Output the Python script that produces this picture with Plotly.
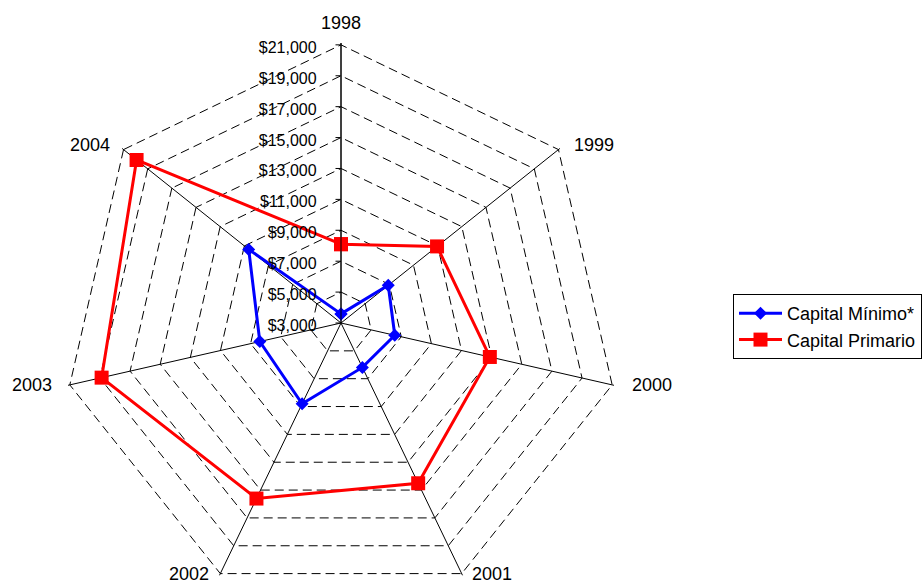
import plotly.graph_objects as go

# Years around the radar, clockwise from the top
years = ["1998", "1999", "2000", "2001", "2002", "2003", "2004"]

# Capital amounts in dollars
capital_minimo = [3590, 6910, 6570, 6190, 8800, 8390, 10640]
capital_primario = [8100, 10950, 12880, 14510, 15610, 18890, 19920]

# Radial scale
r_min, r_max, r_step = 3000, 21000, 2000
r_pad = 120  # keeps the top ring inside the axis so it is drawn as a grid line

W, H = 922, 650
cx, cy, rad = 341, 323, 280  # centre and outer radius in pixels
top = cy - rad

font_family = "Arial, Liberation Sans, sans-serif"

# Year label placement around the outer polygon (pixel x, pixel y, anchor)
year_label_pos = [
    (341, 23, "center"),
    (572, 145, "left"),
    (630, 385, "left"),
    (470, 574, "left"),
    (211, 574, "right"),
    (54, 385, "right"),
    (112, 145, "right"),
]


def closed(vals):
    return list(vals) + [vals[0]]


def px_x(x):
    return x / W


def px_y(y):
    return 1 - (y - top) / (2 * rad)


fig = go.Figure()
fig.add_trace(go.Scatterpolar(
    r=closed(capital_minimo), theta=closed(years), name="Capital Mínimo*",
    mode="lines+markers",
    line=dict(color="#0000FF", width=3),
    marker=dict(symbol="diamond", size=10, color="#0000FF"),
))
fig.add_trace(go.Scatterpolar(
    r=closed(capital_primario), theta=closed(years), name="Capital Primario",
    mode="lines+markers",
    line=dict(color="#FF0000", width=3),
    marker=dict(symbol="square", size=14, color="#FF0000"),
))

annotations = [
    dict(text=yr, x=px_x(x), y=px_y(y), xref="paper", yref="paper",
         xanchor=anchor, yanchor="middle", showarrow=False,
         font=dict(size=18, family=font_family, color="black"))
    for yr, (x, y, anchor) in zip(years, year_label_pos)
]

fig.update_layout(
    width=W, height=H,
    margin=dict(l=0, r=0, t=top, b=H - top - 2 * rad, autoexpand=False),
    paper_bgcolor="white",
    font=dict(family=font_family, color="black", size=16),
    polar=dict(
        domain=dict(x=[px_x(cx - rad), px_x(cx + rad)], y=[0, 1]),
        gridshape="linear",
        bgcolor="white",
        radialaxis=dict(
            range=[r_min, r_max + r_pad], tick0=r_min, dtick=r_step,
            tickformat="$,.0f", ticksuffix="\u00a0",
            angle=90, side="counterclockwise",
            showline=True, linecolor="black", linewidth=1,
            ticks="outside", ticklen=5, tickcolor="black",
            gridcolor="black", gridwidth=1, griddash="9px,5px",
            tickfont=dict(size=16),
        ),
        angularaxis=dict(
            type="category", categoryarray=years,
            direction="clockwise", rotation=90,
            showline=False, ticks="", showticklabels=False,
            gridcolor="black", gridwidth=1,
        ),
    ),
    legend=dict(
        x=px_x(733), y=px_y(294), xanchor="left", yanchor="top",
        bgcolor="white", bordercolor="black", borderwidth=1,
        font=dict(size=18), itemwidth=43,
    ),
    annotations=annotations,
)

fig.write_html("out.html")
